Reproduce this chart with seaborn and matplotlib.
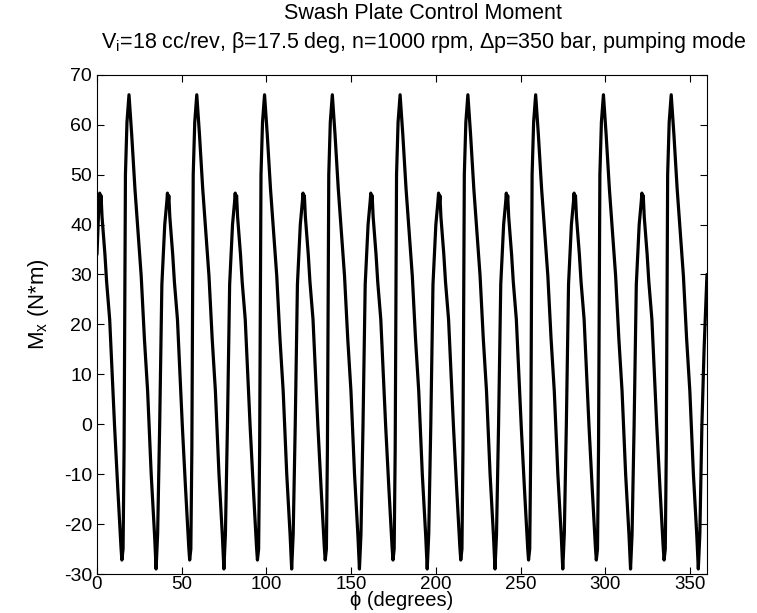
import matplotlib
matplotlib.use("Agg")
import matplotlib.pyplot as plt
import seaborn as sns
import pandas as pd

# ---- data (phi in degrees, Mx in N*m) ----
phi_deg = [
    0.0, 1.2, 1.6, 2.0, 2.4, 3.0, 4.7, 5.7, 7.5, 8.5, 10.4, 12.3, 14.2, 14.7, 15.4, 16.0, 16.8, 17.7, 18.9, 19.9, 20.5, 22.4, 24.3, 26.1, 28.0, 29.9, 32.0, 34.0, 34.9, 35.8, 37.0, 38.3, 39.4,
    40.0, 41.2, 41.6, 42.0, 42.4, 43.0, 44.7, 45.7, 47.5, 48.5, 50.4, 52.3, 54.2, 54.7, 55.4, 56.0, 56.8, 57.7, 58.9, 59.9, 60.5, 62.4, 64.3, 66.1, 68.0, 69.9, 72.0, 74.0, 74.9, 75.8, 77.0, 78.3, 79.4,
    80.0, 81.2, 81.6, 82.0, 82.4, 83.0, 84.7, 85.7, 87.5, 88.5, 90.4, 92.3, 94.2, 94.7, 95.4, 96.0, 96.8, 97.7, 98.9, 99.9, 100.5, 102.4, 104.3, 106.1, 108.0, 109.9, 112.0, 114.0, 114.9, 115.8, 117.0, 118.3, 119.4,
    120.0, 121.2, 121.6, 122.0, 122.4, 123.0, 124.7, 125.7, 127.5, 128.5, 130.4, 132.3, 134.2, 134.7, 135.4, 136.0, 136.8, 137.7, 138.9, 139.9, 140.5, 142.4, 144.3, 146.1, 148.0, 149.9, 152.0, 154.0, 154.9, 155.8, 157.0, 158.3, 159.4,
    160.0, 161.2, 161.6, 162.0, 162.4, 163.0, 164.7, 165.7, 167.5, 168.5, 170.4, 172.3, 174.2, 174.7, 175.4, 176.0, 176.8, 177.7, 178.9, 179.9, 180.5, 182.4, 184.3, 186.1, 188.0, 189.9, 192.0, 194.0, 194.9, 195.8, 197.0, 198.3, 199.4,
    200.0, 201.2, 201.6, 202.0, 202.4, 203.0, 204.7, 205.7, 207.5, 208.5, 210.4, 212.3, 214.2, 214.7, 215.4, 216.0, 216.8, 217.7, 218.9, 219.9, 220.5, 222.4, 224.3, 226.1, 228.0, 229.9, 232.0, 234.0, 234.9, 235.8, 237.0, 238.3, 239.4,
    240.0, 241.2, 241.6, 242.0, 242.4, 243.0, 244.7, 245.7, 247.5, 248.5, 250.4, 252.3, 254.2, 254.7, 255.4, 256.0, 256.8, 257.7, 258.9, 259.9, 260.5, 262.4, 264.3, 266.1, 268.0, 269.9, 272.0, 274.0, 274.9, 275.8, 277.0, 278.3, 279.4,
    280.0, 281.2, 281.6, 282.0, 282.4, 283.0, 284.7, 285.7, 287.5, 288.5, 290.4, 292.3, 294.2, 294.7, 295.4, 296.0, 296.8, 297.7, 298.9, 299.9, 300.5, 302.4, 304.3, 306.1, 308.0, 309.9, 312.0, 314.0, 314.9, 315.8, 317.0, 318.3, 319.4,
    320.0, 321.2, 321.6, 322.0, 322.4, 323.0, 324.7, 325.7, 327.5, 328.5, 330.4, 332.3, 334.2, 334.7, 335.4, 336.0, 336.8, 337.7, 338.9, 339.9, 340.5, 342.4, 344.3, 346.1, 348.0, 349.9, 352.0, 354.0, 354.9, 355.8, 357.0, 358.3, 359.2, 360.0,
]

moment_nm = [
    34, 44.5, 46.3, 44, 45.8, 41.5, 34, 28.5, 21, 13.5, -0.5, -13, -24.8, -27.2, -25, -5, 50, 60.5, 66, 61, 58, 47.2, 38.1, 29.7, 17.1, 6.6, -10, -22.3, -29, -22, -0.3, 28, 36,
    40, 44.5, 46.3, 44, 45.8, 41.5, 34, 28.5, 21, 13.5, -0.5, -13, -24.8, -27.2, -25, -5, 50, 60.5, 66, 61, 58, 47.2, 38.1, 29.7, 17.1, 6.6, -10, -22.3, -29, -22, -0.3, 28, 36,
    40, 44.5, 46.3, 44, 45.8, 41.5, 34, 28.5, 21, 13.5, -0.5, -13, -24.8, -27.2, -25, -5, 50, 60.5, 66, 61, 58, 47.2, 38.1, 29.7, 17.1, 6.6, -10, -22.3, -29, -22, -0.3, 28, 36,
    40, 44.5, 46.3, 44, 45.8, 41.5, 34, 28.5, 21, 13.5, -0.5, -13, -24.8, -27.2, -25, -5, 50, 60.5, 66, 61, 58, 47.2, 38.1, 29.7, 17.1, 6.6, -10, -22.3, -29, -22, -0.3, 28, 36,
    40, 44.5, 46.3, 44, 45.8, 41.5, 34, 28.5, 21, 13.5, -0.5, -13, -24.8, -27.2, -25, -5, 50, 60.5, 66, 61, 58, 47.2, 38.1, 29.7, 17.1, 6.6, -10, -22.3, -29, -22, -0.3, 28, 36,
    40, 44.5, 46.3, 44, 45.8, 41.5, 34, 28.5, 21, 13.5, -0.5, -13, -24.8, -27.2, -25, -5, 50, 60.5, 66, 61, 58, 47.2, 38.1, 29.7, 17.1, 6.6, -10, -22.3, -29, -22, -0.3, 28, 36,
    40, 44.5, 46.3, 44, 45.8, 41.5, 34, 28.5, 21, 13.5, -0.5, -13, -24.8, -27.2, -25, -5, 50, 60.5, 66, 61, 58, 47.2, 38.1, 29.7, 17.1, 6.6, -10, -22.3, -29, -22, -0.3, 28, 36,
    40, 44.5, 46.3, 44, 45.8, 41.5, 34, 28.5, 21, 13.5, -0.5, -13, -24.8, -27.2, -25, -5, 50, 60.5, 66, 61, 58, 47.2, 38.1, 29.7, 17.1, 6.6, -10, -22.3, -29, -22, -0.3, 28, 36,
    40, 44.5, 46.3, 44, 45.8, 41.5, 34, 28.5, 21, 13.5, -0.5, -13, -24.8, -27.2, -25, -5, 50, 60.5, 66, 61, 58, 47.2, 38.1, 29.7, 17.1, 6.6, -10, -22.3, -29, -22, -0.3, 15, 23, 30,
]

x_ticks = [0, 50, 100, 150, 200, 250, 300, 350]
y_ticks = [-30, -20, -10, 0, 10, 20, 30, 40, 50, 60, 70]

title_text = ("Swash Plate Control Moment\n"
              "V$_\\mathregular{i}$=18 cc/rev, \u03b2=17.5 deg, n=1000 rpm, \u0394p=350 bar, pumping mode")
x_label = "\u03d5 (degrees)"
y_label = "M$_\\mathregular{x}$ (N*m)"

# ---- style ----
sns.set_theme(style="ticks")
plt.rcParams["font.family"] = ["Liberation Sans", "DejaVu Sans"]
plt.rcParams["mathtext.default"] = "regular"
plt.rcParams["axes.unicode_minus"] = False

df = pd.DataFrame({"phi": phi_deg, "Mx": moment_nm})

fig = plt.figure(figsize=(7.57, 6.13), dpi=100)
ax = fig.add_axes([0.1281, 0.0636, 0.8058, 0.8144])

sns.lineplot(data=df, x="phi", y="Mx", ax=ax, color="black", linewidth=2.3,
             estimator=None, sort=False)

ax.set_xlim(0, 360)
ax.set_ylim(-30, 70)
ax.set_xticks(x_ticks)
ax.set_yticks(y_ticks)
ax.tick_params(direction="in", top=True, right=True, length=5, width=0.8,
               labelsize=14, colors="black")
ax.tick_params(axis="x", pad=1.5, labelsize=13.5)
ax.tick_params(axis="y", pad=3.5)
for s in ax.spines.values():
    s.set_visible(True)
    s.set_color("black")
    s.set_linewidth(0.8)

ax.set_xlabel(x_label, fontsize=14.5, color="black")
ax.xaxis.set_label_coords(0.5, -0.034)
ax.set_ylabel(y_label, fontsize=16, color="black")
ax.yaxis.set_label_coords(-0.075, 0.54)
ax.set_title(title_text, fontsize=15.5, color="black", linespacing=1.3,
             pad=19.5, x=0.535)

fig.savefig("out.png", dpi=100, facecolor="white")
